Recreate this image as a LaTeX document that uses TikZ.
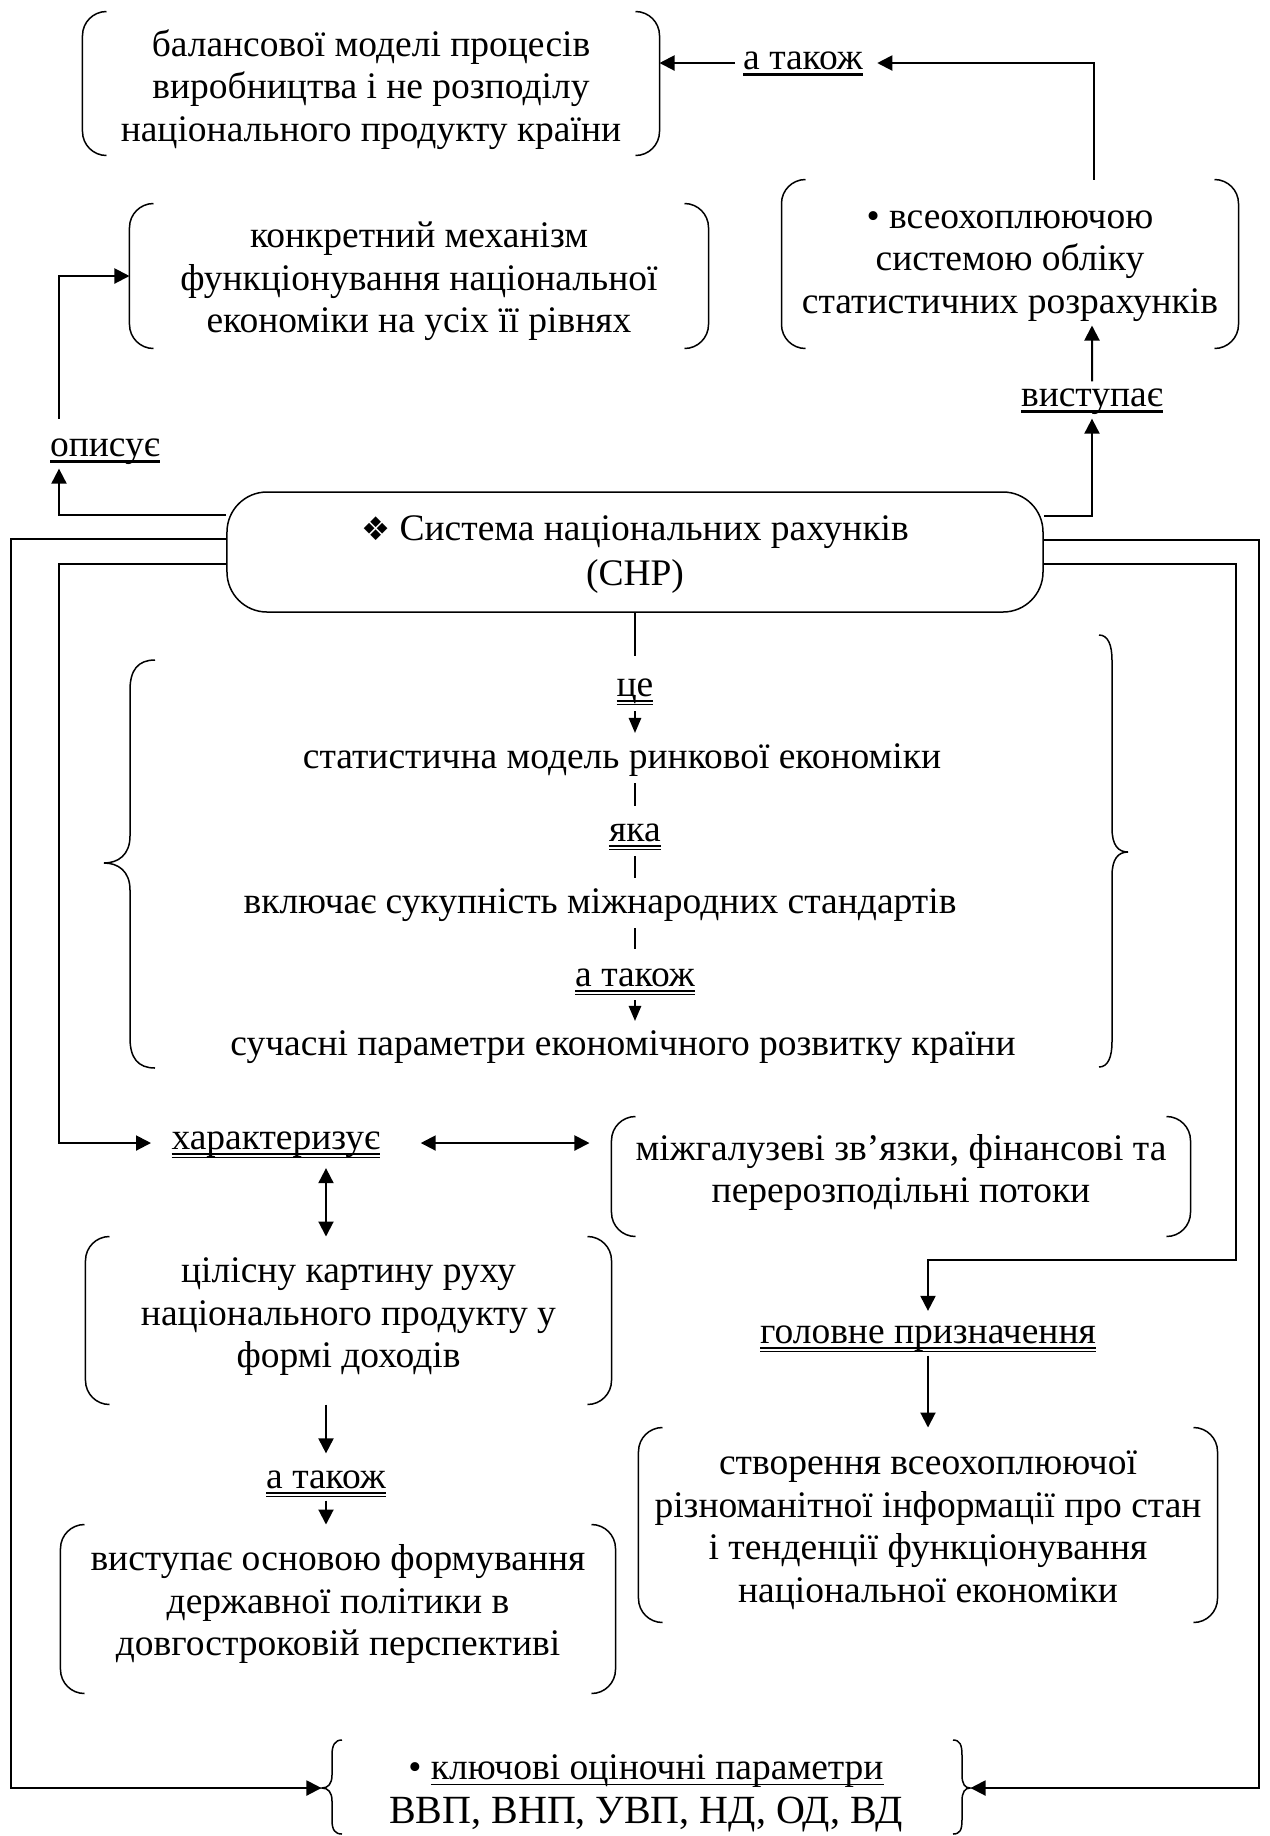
\documentclass[tikz,border=0pt]{standalone}
\usepackage{fontspec}
\setmainfont{Liberation Serif}
\newfontfamily\dejavu{DejaVu Sans}
\usetikzlibrary{arrows.meta}
\newcommand\ulone[1]{\setbox0=\hbox{#1}\rlap{\rule[-2.4pt]{\wd0}{1pt}}\box0}
\newcommand\ulthin[1]{\setbox0=\hbox{#1}\rlap{\rule[-2.3pt]{\wd0}{0.7pt}}\box0}
\newcommand\ultwo[1]{\setbox0=\hbox{#1}\rlap{\rule[-2.2pt]{\wd0}{0.9pt}}\rlap{\rule[-3.4pt]{\wd0}{0.4pt}}\box0}
\newcommand\bx[2]{\raisebox{#1}[\height][\depth]{\begin{tabular}{@{}c@{}}#2\end{tabular}}}
\begin{document}
\begin{tikzpicture}[x=0.4pt,y=-0.4pt,
  font=\fontsize{15}{17}\selectfont,
  pbox/.style={inner sep=0pt},
  lab/.style={inner xsep=3pt, inner ysep=0pt, text height=10pt, text depth=4.5pt},
  arr/.style={-{Triangle[length=6pt,width=6pt]}, line width=0.8pt},
  darr/.style={{Triangle[length=6pt,width=6pt]}-{Triangle[length=6pt,width=6pt]}, line width=0.8pt},
  thinline/.style={line width=0.5pt},
  thinarr/.style={-{Triangle[length=6pt,width=5pt]}, line width=0.5pt},
  brk/.style={line width=0.6pt, rounded corners=9.6pt},
  brace/.style={line width=0.6pt}]
\useasboundingbox (0,0) rectangle (1270,1836);

% bracket boxes
\node[pbox, minimum width=230.4pt, minimum height=57.2pt] (b1) at (371,83.5)
  {\bx{-2.65pt}{балансової моделі процесів\\виробництва і не розподілу\\національного продукту країни}};
\node[pbox, minimum width=182.4pt, minimum height=67.2pt] (b2) at (1010,264)
  {\bx{0.7pt}{• всеохоплюючою\\системою обліку\\статистичних розрахунків}};
\node[pbox, minimum width=231.2pt, minimum height=57.6pt] (b3) at (419,276)
  {\bx{-2.25pt}{конкретний механізм\\функціонування національної\\економіки на усіх її рівнях}};
\node[pbox, minimum width=231.2pt, minimum height=47.6pt] (b4) at (901,1176.5)
  {\bx{1.5pt}{міжгалузеві зв’язки, фінансові та\\перерозподільні потоки}};
\node[pbox, minimum width=210pt, minimum height=66.8pt] (b5) at (348.5,1320.5)
  {\bx{1.5pt}{цілісну картину руху\\національного продукту у\\формі доходів}};
\node[pbox, minimum width=221.6pt, minimum height=67.2pt] (b6) at (338,1609)
  {\bx{1.7pt}{виступає основою формування\\державної політики в\\довгостроковій перспективі}};
\node[pbox, minimum width=231.2pt, minimum height=77.6pt] (b7) at (928,1525)
  {\bx{-1.9pt}{створення всеохоплюючої\\різноманітної інформації про стан\\і тенденції функціонування\\національної економіки}};
\foreach \n in {b1,b2,b3,b4,b5,b6,b7} {
  \draw[brk] ([xshift=9.6pt]\n.north west) -- (\n.north west) -- (\n.south west) -- ([xshift=9.6pt]\n.south west);
  \draw[brk] ([xshift=-9.6pt]\n.north east) -- (\n.north east) -- (\n.south east) -- ([xshift=-9.6pt]\n.south east);
}

% central node
\node[draw, line width=0.6pt, rounded corners=16pt, minimum width=326.4pt, minimum height=48pt,
  inner sep=0pt] (chp) at (635,552)
  {\bx{-1pt}{{\dejavu\fontsize{13}{14}\selectfont ❖}\ Система національних рахунків\\[0.8pt](СНР)}};

% labels
\node[lab] (atak1) at (803,63) {\ulone{а також}};
\node[lab] (opys) at (105,450) {\ulone{описує}};
\node[lab] (vys) at (1092,400) {\ulone{виступає}};
\node[lab, anchor=west] (xar) at (163.5,1143) {\ultwo{характеризує}};
\node[lab] (gol) at (928,1337) {\ultwo{головне призначення}};
\node[lab] (atak3) at (326,1482) {\ultwo{а також}};

% middle column
\node[lab] (ce) at (635,690) {\ultwo{це}};
\node[lab] (stat) at (622,762) {статистична модель ринкової економіки};
\node[lab] (yaka) at (635,835) {\ultwo{яка}};
\node[lab] (vkl) at (600,907) {включає сукупність міжнародних стандартів};
\node[lab] (atak2) at (635,980) {\ultwo{а також}};
\node[lab] (such) at (623,1049) {сучасні параметри економічного розвитку країни};

\draw[thinline, shorten >=6.2pt] (chp.south) -- (ce.north);
\draw[thinarr, shorten <=1pt, shorten >=4.2pt] (ce.south) -- (ce.south |- stat.north);
\draw[thinline, shorten <=1pt, shorten >=4.2pt] (stat.south -| yaka.north) -- (yaka.north);
\draw[thinline, shorten <=1pt, shorten >=4.2pt] (yaka.south) -- (yaka.south |- vkl.north);
\draw[thinline, shorten <=1pt, shorten >=5pt] (vkl.south -| atak2.north) -- (atak2.north);
\draw[thinarr, shorten <=0.6pt, shorten >=3.8pt] (atak2.south) -- (atak2.south |- such.north);

% braces around the middle column
\draw[brace] (155,660) .. controls (138,660) and (130,670) .. (130,690) -- (130,836)
  .. controls (130,855) and (118,863) .. (104,863) .. controls (118,863) and (130,871) .. (130,890)
  -- (130,1038) .. controls (130,1058) and (138,1068) .. (155,1068);
\draw[brace] (1099,635) .. controls (1108,635) and (1112,645) .. (1112,660) -- (1112,828)
  .. controls (1112,845) and (1118,852) .. (1128,852) .. controls (1118,852) and (1112,859) .. (1112,876)
  -- (1112,1042) .. controls (1112,1057) and (1108,1067) .. (1099,1067);

% bottom node
\node[pbox, minimum width=259.2pt, minimum height=38.4pt] (bot) at (646,1788)
  {\bx{-2pt}{•~\ulthin{ключові оціночні параметри}\\[0.6pt]{\fontsize{16}{17}\selectfont ВВП, ВНП, УВП, НД, ОД, ВД}}};
\draw[brace] (342,1740) .. controls (335,1740) and (332,1745) .. (332,1755) -- (332,1775)
  .. controls (332,1784) and (328,1788) .. (322,1788) .. controls (328,1788) and (332,1792) .. (332,1801)
  -- (332,1820) .. controls (332,1830) and (335,1834) .. (342,1834);
\draw[brace] (953,1740) .. controls (960,1740) and (962,1745) .. (962,1755) -- (962,1775)
  .. controls (962,1784) and (965,1788) .. (970,1788) .. controls (965,1788) and (962,1792) .. (962,1801)
  -- (962,1820) .. controls (962,1830) and (960,1834) .. (953,1834);

% connectors
\coordinate (oL) at (11,1788);
\coordinate (oR) at (1259,1788);
\coordinate (iL) at (59,1143);
\coordinate (iR) at (1236,1260);

\draw[arr] (atak1.west) -- (atak1.west -| b1.east);
\draw[arr, shorten >=2.6pt] ([xshift=33.6pt]b2.north) |- (atak1.east);
\draw[arr] ([xshift=-18.4pt,yshift=5pt]opys.north) |- (b3.west);
\draw[arr] ([yshift=14.8pt]chp.west) -| ([xshift=-18.4pt]opys.south);
\draw[arr] ([yshift=14.4pt]chp.east) -| (vys.south);
\draw[arr] (vys.north) -- ([xshift=32.8pt,yshift=9.2pt]b2.south);
\draw[arr] ([yshift=5.2pt]chp.west) -| (oL) -- (bot.west);
\draw[arr] ([yshift=4.8pt]chp.east) -| (oR) -- (bot.east);
\draw[arr, shorten >=5pt] ([yshift=-4.8pt]chp.west) -| (iL) -- (xar.west);
\draw[arr, shorten >=3pt] ([yshift=-4.8pt]chp.east) -| (iR) -| (gol.north);
\draw[darr, shorten <=13pt, shorten >=8.8pt] (xar.east) -- (xar.east -| b4.west);
\draw[darr, shorten <=2.6pt] (xar.south -| atak3.north) -- (b5.north -| atak3.north);
\draw[arr, shorten >=4pt] (b5.south -| atak3.north) -- (atak3.north);
\draw[arr] (atak3.south) -- (b6.north -| atak3.south);
\draw[arr] (gol.south) -- (b7.north -| gol.south);
\end{tikzpicture}
\end{document}
